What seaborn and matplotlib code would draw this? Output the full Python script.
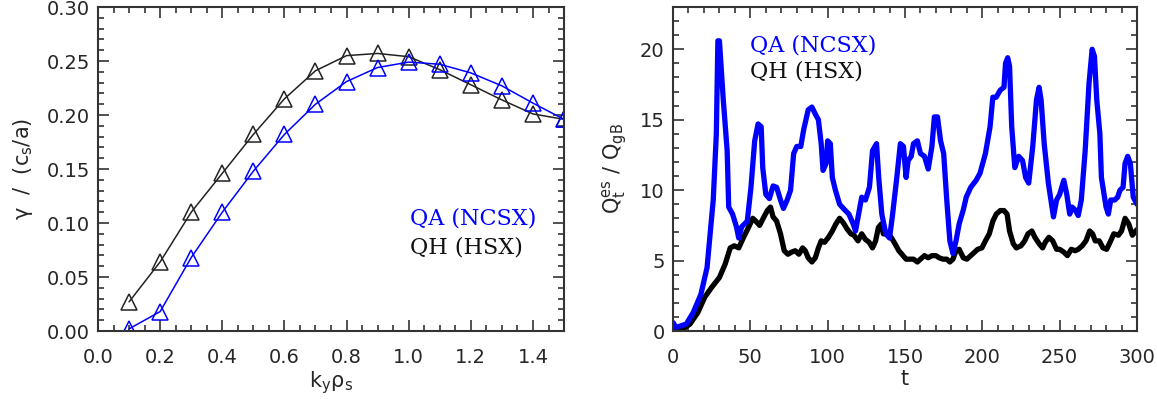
import numpy as np
import pandas as pd
import seaborn as sns
import matplotlib.pyplot as plt
from matplotlib.ticker import MultipleLocator

# growth rate spectrum
ky = [0.1, 0.2, 0.3, 0.4, 0.5, 0.6, 0.7, 0.8, 0.9, 1.0, 1.1, 1.2, 1.3, 1.4, 1.5]
gamma_qh = [0.027, 0.064, 0.110, 0.146, 0.182, 0.215, 0.241, 0.255, 0.257,
            0.254, 0.242, 0.228, 0.214, 0.201, 0.196]
gamma_qa = [0.002, 0.018, 0.068, 0.110, 0.148, 0.182, 0.210, 0.231, 0.244,
            0.249, 0.247, 0.239, 0.227, 0.211, 0.196]

# heat flux time traces
t_qa = [0, 2, 8.6, 13, 18, 22, 24, 26, 28, 29, 30, 32.5, 35, 36, 38.5, 41, 42.5,
        44.4, 48, 50.4, 52.8, 55, 57, 58, 60, 62.3, 64.7, 67, 69.5, 71.4, 73.8,
        76, 78, 80, 82.6, 84.5, 87.4, 89.8, 92, 94, 95.8, 97, 99, 100, 101.7,
        103, 105, 107.7, 111, 113.7, 116.5, 118, 120, 122, 124.4, 127, 129,
        131.6, 133, 135, 137.6, 140, 142, 144.7, 147, 149, 150.7, 152, 154,
        155.5, 158, 160, 162.6, 165, 167.4, 169, 171, 173, 175, 177, 179, 181,
        183, 185, 187.7, 189.6, 192.5, 196, 198.5, 202, 205, 206.8, 209, 211.6,
        214, 215, 216.4, 217.6, 219, 221, 223.5, 226, 228, 230, 232.6, 235,
        236.7, 238, 240, 242.7, 245, 246, 248, 250, 252.7, 254.6, 256.5, 258,
        260, 262, 264, 266.5, 269, 271, 272.5, 274, 276, 277, 280, 281.5, 283,
        285.6, 287.5, 289, 291, 292.3, 294, 295.7, 297.6, 300]
q_qa = [0.6, 0.25, 0.5, 1.3, 2.6, 4.5, 6.9, 9.3, 14.0, 20.6, 20.6, 16.4, 12.8,
        8.8, 8.3, 7.4, 6.6, 7.4, 7.8, 10.2, 13.5, 14.7, 14.5, 11.6, 9.7, 9.4,
        10.3, 10.2, 9.3, 8.7, 9.3, 10.0, 12.6, 13.1, 13.1, 14.3, 15.7, 15.9,
        15.4, 15.0, 13.3, 11.4, 11.9, 13.5, 13.3, 10.9, 10.0, 9.0, 8.6, 8.3,
        7.6, 7.1, 8.3, 9.5, 9.3, 10.2, 12.8, 13.3, 10.9, 8.3, 6.9, 6.6, 8.3,
        10.9, 13.3, 13.1, 10.9, 12.1, 12.4, 13.3, 13.5, 12.6, 12.4, 11.5, 13.1,
        15.2, 15.2, 13.5, 12.6, 9.3, 6.4, 5.5, 6.4, 7.6, 8.6, 9.5, 10.2, 10.7,
        11.2, 12.6, 14.5, 16.6, 16.6, 17.1, 17.3, 19.0, 19.4, 18.8, 14.5, 11.6,
        12.4, 12.1, 10.9, 10.5, 13.1, 16.4, 17.3, 16.4, 13.3, 10.5, 8.8, 8.1,
        9.3, 9.7, 10.7, 9.7, 8.3, 8.8, 8.6, 8.2, 9.3, 12.8, 17.6, 20.0, 19.5,
        16.4, 14.0, 10.9, 8.8, 8.3, 9.3, 9.3, 9.5, 10.0, 10.2, 11.9, 12.4,
        11.9, 9.5, 9.0]

t_qh = [0, 6, 11, 16, 20.5, 25, 30, 33.7, 37, 39.6, 42.5, 45.6, 49, 51.6, 53.5,
        56, 58.3, 61, 63, 64.7, 67, 69.5, 71.9, 74.3, 76.7, 79, 81.4, 83.8,
        85.5, 87.4, 89.8, 92, 94, 95.8, 98, 100.5, 103, 105.3, 107.7, 110,
        112.5, 115, 117, 119.6, 122, 124.4, 126.8, 129, 131, 132.8, 134.7, 136,
        139, 141, 143.5, 146, 148, 150.7, 153, 155.5, 158, 160, 162.6, 165,
        167.4, 170, 172, 174.6, 177, 179, 181, 183, 185, 187.7, 190, 192.5,
        195, 197, 199.7, 202, 204.5, 206.8, 209, 211.6, 214, 216, 217.6, 220,
        222, 225, 227.4, 229.5, 232, 234, 236.7, 239, 240.7, 243, 245.5, 248,
        250, 252.7, 255, 257.5, 260, 262, 264.6, 267, 269.4, 271.3, 273, 275.6,
        278, 280.4, 283, 285, 288, 290, 292.3, 294.7, 297, 300]
q_qh = [0.0, 0.1, 0.5, 1.3, 2.4, 3.1, 3.8, 4.75, 5.9, 6.05, 5.9, 6.65, 7.4, 8.0,
        7.8, 7.5, 8.0, 8.55, 8.8, 8.1, 7.8, 6.9, 5.7, 5.45, 5.6, 5.7, 5.45,
        5.9, 5.7, 5.2, 4.9, 5.2, 5.9, 6.4, 6.3, 6.65, 7.1, 7.6, 8.0, 7.7, 7.25,
        6.9, 6.8, 6.4, 6.9, 6.5, 6.3, 5.9, 6.4, 7.35, 7.6, 6.9, 6.9, 6.65, 6.2,
        5.7, 5.45, 5.1, 5.1, 5.1, 4.9, 5.1, 5.35, 5.2, 5.35, 5.35, 5.2, 5.1,
        5.1, 4.9, 5.1, 5.7, 5.8, 5.2, 5.1, 5.35, 5.6, 5.8, 5.9, 6.4, 6.9, 7.8,
        8.3, 8.55, 8.55, 8.3, 7.1, 6.2, 5.9, 6.05, 6.4, 6.9, 7.1, 6.65, 6.2,
        5.9, 6.3, 6.65, 6.4, 5.8, 5.8, 5.6, 5.35, 5.8, 5.7, 5.8, 6.05, 6.4,
        7.1, 6.9, 6.4, 6.4, 5.9, 5.8, 6.4, 6.9, 6.8, 7.1, 8.0, 7.6, 6.8, 7.2]

blue = "#0000ff"
sns.set_theme(style="ticks")
plt.rcParams["font.family"] = ["DejaVu Sans"]
plt.rcParams["mathtext.default"] = "regular"


def style_axis(ax, xmaj, xmin, ymaj, ymin):
    ax.xaxis.set_major_locator(MultipleLocator(xmaj))
    ax.xaxis.set_minor_locator(MultipleLocator(xmin))
    ax.yaxis.set_major_locator(MultipleLocator(ymaj))
    ax.yaxis.set_minor_locator(MultipleLocator(ymin))
    ax.tick_params(which="both", direction="in", top=True, right=True,
                   color="#333333", labelsize=14, width=1.2)
    ax.tick_params(which="major", length=8)
    ax.tick_params(which="minor", length=4)
    ax.tick_params(axis="x", which="both", pad=12)
    ax.tick_params(axis="y", which="both", pad=6)
    for sp in ax.spines.values():
        sp.set_linewidth(1.5)
        sp.set_color("#333333")


fig = plt.figure(figsize=(11.57, 3.99), dpi=100)
ax1 = fig.add_axes([0.0847, 0.1704, 0.4028, 0.812])
ax2 = fig.add_axes([0.5817, 0.1704, 0.4010, 0.812])

# left panel
sns.lineplot(x=ky, y=gamma_qh, ax=ax1, color="#222222", lw=1.1, marker="^",
             markersize=12, markerfacecolor="none", markeredgecolor="#222222",
             markeredgewidth=1.1)
sns.lineplot(x=ky, y=gamma_qa, ax=ax1, color=blue, lw=1.1, marker="^",
             markersize=12, markerfacecolor="none", markeredgecolor=blue,
             markeredgewidth=1.1)
ax1.set_xlim(0, 1.5)
ax1.set_ylim(0, 0.30)
style_axis(ax1, 0.2, 0.05, 0.05, 0.01)
ax1.xaxis.set_major_formatter(lambda v, p: f"{v:.1f}")
ax1.yaxis.set_major_formatter(lambda v, p: f"{v:.2f}")
ax1.set_xlabel("k$_y$ρ$_s$", fontsize=15, labelpad=2)
ax1.set_ylabel("γ  /  (c$_s$/a)", fontsize=15, labelpad=8)
ax1.text(1.005, 0.104, "QA (NCSX)", color=blue, family="DejaVu Serif",
         fontsize=16, va="center")
ax1.text(1.005, 0.077, "QH (HSX)", color="#111111", family="DejaVu Serif",
         fontsize=16, va="center")

# right panel
sns.lineplot(x=t_qh, y=q_qh, ax=ax2, color="black", lw=3.8)
sns.lineplot(x=t_qa, y=q_qa, ax=ax2, color=blue, lw=3.8)
ax2.set_xlim(0, 300)
ax2.set_ylim(0, 23)
style_axis(ax2, 50, 10, 5, 1)
ax2.set_xlabel("t", fontsize=15, labelpad=2)
ax2.set_ylabel("Q$_t^{es}$ / Q$_{gB}$", fontsize=15, labelpad=8)
ax2.text(49.5, 20.3, "QA (NCSX)", color=blue, family="DejaVu Serif",
         fontsize=16, va="center")
ax2.text(49.5, 18.4, "QH (HSX)", color="#111111", family="DejaVu Serif",
         fontsize=16, va="center")

fig.savefig("out.png", dpi=100)
